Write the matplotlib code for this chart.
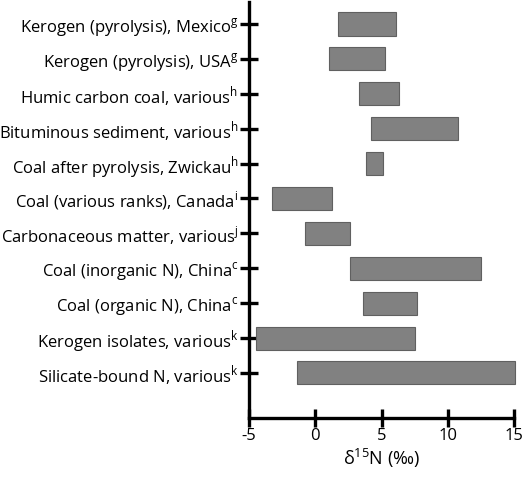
import matplotlib
matplotlib.use("Agg")
import matplotlib.pyplot as plt

plt.rcParams['font.family'] = ['Open Sans', 'DejaVu Sans']
plt.rcParams['mathtext.fontset'] = 'custom'
plt.rcParams['mathtext.rm'] = 'Open Sans'

categories = [
    "Kerogen (pyrolysis), Mexico$^{\\mathregular{g}}$",
    "Kerogen (pyrolysis), USA$^{\\mathregular{g}}$",
    "Humic carbon coal, various$^{\\mathregular{h}}$",
    "Bituminous sediment, various$^{\\mathregular{h}}$",
    "Coal after pyrolysis, Zwickau$^{\\mathregular{h}}$",
    "Coal (various ranks), Canada$^{\\mathregular{i}}$",
    "Carbonaceous matter, various$^{\\mathregular{j}}$",
    "Coal (inorganic N), China$^{\\mathregular{c}}$",
    "Coal (organic N), China$^{\\mathregular{c}}$",
    "Kerogen isolates, various$^{\\mathregular{k}}$",
    "Silicate-bound N, various$^{\\mathregular{k}}$",
]
range_min = [1.7, 1.0, 3.3, 4.2, 3.8, -3.3, -0.8, 2.6, 3.6, -4.5, -1.4]
range_max = [6.1, 5.3, 6.3, 10.8, 5.1, 1.3, 2.6, 12.5, 7.7, 7.5, 15.1]
xticks = [-5, 0, 5, 10, 15]

fig = plt.figure(figsize=(5.26, 4.79), dpi=100)
ax = fig.add_axes([249/526, 1 - 418/479, (514 - 249)/526, (418 - 2)/479])

ys = list(range(len(categories)))
widths = [b - a for a, b in zip(range_min, range_max)]
ax.barh(ys, widths, left=range_min, height=0.66, color='#818181',
        edgecolor='#606060', linewidth=0.8, clip_on=False, zorder=2)

ax.set_xlim(-5, 15)
ax.set_ylim(11.29, -0.63)
ax.set_yticks(ys)
ax.set_yticklabels(categories, fontsize=12)
ax.set_xticks(xticks)
ax.set_xticklabels([str(t) for t in xticks], fontsize=12)
ax.set_xlabel("δ$^{\\mathregular{15}}$N (‰)", fontsize=13, labelpad=2)

for s in ['top', 'right']:
    ax.spines[s].set_visible(False)
for s in ['left', 'bottom']:
    ax.spines[s].set_linewidth(2.4)
    ax.spines[s].set_zorder(3)
ax.tick_params(axis='both', direction='inout', length=13, width=2.4, color='black')
ax.tick_params(axis='y', pad=1)
ax.tick_params(axis='x', pad=1)

fig.savefig("out.png", dpi=100)
